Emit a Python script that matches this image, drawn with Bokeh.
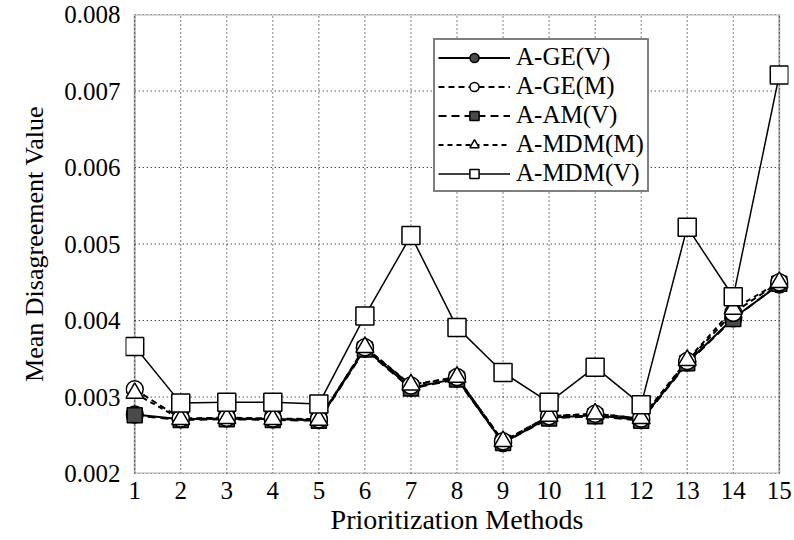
from bokeh.plotting import figure
from bokeh.models import (Range1d, FixedTicker, PrintfTickFormatter, Legend, LegendItem,
                          BoxAnnotation)
from bokeh.embed import file_html
from bokeh.resources import INLINE

methods = list(range(1, 16))
x_ticks = list(range(1, 16))
y_ticks = [0.002, 0.003, 0.004, 0.005, 0.006, 0.007, 0.008]

ge_v = [0.00277, 0.00271, 0.00272, 0.00271, 0.00270, 0.00363, 0.00312, 0.00324,
        0.00240, 0.00273, 0.00276, 0.00270, 0.00345, 0.00403, 0.00447]
ge_m = [0.00310, 0.00272, 0.00273, 0.00272, 0.00271, 0.00365, 0.00315, 0.00326,
        0.00242, 0.00275, 0.00278, 0.00272, 0.00347, 0.00410, 0.00450]
am_v = [0.00276, 0.00270, 0.00271, 0.00270, 0.00269, 0.00362, 0.00311, 0.00323,
        0.00240, 0.00272, 0.00275, 0.00269, 0.00344, 0.00402, 0.00448]
mdm_m = [0.00305, 0.00271, 0.00272, 0.00271, 0.00270, 0.00365, 0.00316, 0.00326,
         0.00242, 0.00275, 0.00278, 0.00272, 0.00348, 0.00415, 0.00450]
mdm_v = [0.00366, 0.00292, 0.00293, 0.00293, 0.00291, 0.00406, 0.00511, 0.00391,
         0.00332, 0.00293, 0.00339, 0.00290, 0.00522, 0.00431, 0.00721]

FONT = "Times"
PAD = 0.2
x0, x1 = x_ticks[0], x_ticks[-1]
y0, y1 = y_ticks[0], y_ticks[-1]

p = figure(width=794, height=540, output_backend="svg", toolbar_location=None,
           x_range=Range1d(x0 - PAD, x1 + PAD), y_range=Range1d(y0, y1),
           min_border_left=125, min_border_right=6, min_border_top=14,
           min_border_bottom=67)
p.background_fill_color = "white"
p.border_fill_color = "white"
p.outline_line_color = None
p.xgrid.visible = False
p.ygrid.visible = False

p.xaxis.ticker = FixedTicker(ticks=x_ticks)
p.yaxis.ticker = FixedTicker(ticks=y_ticks)
p.yaxis.formatter = PrintfTickFormatter(format="%.3f")
for ax in (p.xaxis[0], p.yaxis[0]):
    ax.axis_line_color = None
    ax.major_tick_line_color = None
    ax.minor_tick_line_color = None
    ax.major_tick_in = 0
    ax.major_tick_out = 0
    ax.major_label_text_font = FONT
    ax.major_label_text_font_size = "25px"
    ax.major_label_text_color = "black"
    ax.axis_label_text_font = FONT
    ax.axis_label_text_font_style = "normal"
    ax.axis_label_text_color = "black"
p.xaxis.axis_label = "Prioritization Methods"
p.yaxis.axis_label = "Mean Disagreement Value"
p.xaxis.axis_label_text_font_size = "28px"
p.yaxis.axis_label_text_font_size = "26px"
p.xaxis.major_label_standoff = 8
p.xaxis.axis_label_standoff = 2
p.yaxis.major_label_standoff = 5
p.yaxis.axis_label_standoff = 12

# dotted grid, drawn inside the box only
p.segment(x0=[x0] * len(y_ticks), x1=[x1] * len(y_ticks), y0=y_ticks, y1=y_ticks,
          line_color="black", line_dash="1 3", line_width=1)
p.segment(x0=x_ticks, x1=x_ticks, y0=[y0] * len(x_ticks), y1=[y1] * len(x_ticks),
          line_color="black", line_dash="1 3", line_width=1)
p.add_layout(BoxAnnotation(left=x0, right=x1, bottom=y0, top=y1, fill_alpha=0,
                           line_color="black", line_width=2, level="underlay"))

# lines
l_gev = p.line(methods, ge_v, line_color="black", line_width=2)
l_amv = p.line(methods, am_v, line_color="black", line_width=2, line_dash="8 5")
l_gem = p.line(methods, ge_m, line_color="black", line_width=2, line_dash="6 4")
l_mdmm = p.line(methods, mdm_m, line_color="black", line_width=2, line_dash="5 4")
l_mdmv = p.line(methods, mdm_v, line_color="black", line_width=1.5)

# markers
s_gev = p.scatter(methods, ge_v, marker="circle", size=17, fill_color="#4a4a4a",
                  line_color="black", line_width=1.5)
s_amv = p.scatter(methods, am_v, marker="square", size=15, fill_color="#4a4a4a",
                  line_color="black", line_width=1.5)
s_gem = p.scatter(methods, ge_m, marker="circle", size=17, fill_color="white",
                  line_color="black", line_width=1.5)
s_mdmm = p.scatter(methods, mdm_m, marker="triangle", size=18, fill_color="white",
                   line_color="black", line_width=1.5)
s_mdmv = p.scatter(methods, mdm_v, marker="square", size=18, fill_color="white",
                   line_color="black", line_width=1.5)

legend = Legend(items=[
    LegendItem(label="A-GE(V)", renderers=[l_gev, s_gev]),
    LegendItem(label="A-GE(M)", renderers=[l_gem, s_gem]),
    LegendItem(label="A-AM(V)", renderers=[l_amv, s_amv]),
    LegendItem(label="A-MDM(M)", renderers=[l_mdmm, s_mdmm]),
    LegendItem(label="A-MDM(V)", renderers=[l_mdmv, s_mdmv]),
], location=(308, 281))
legend.label_text_font = FONT
legend.label_text_font_size = "25px"
legend.label_text_color = "black"
legend.glyph_width = 72
legend.glyph_height = 23
legend.label_height = 23
legend.spacing = 1
legend.padding = 3
legend.margin = 0
legend.label_standoff = 6
legend.border_line_color = "black"
legend.border_line_width = 2
legend.background_fill_color = "white"
legend.background_fill_alpha = 1
p.add_layout(legend, "center")

open("out.html", "w").write(file_html(p, INLINE))
